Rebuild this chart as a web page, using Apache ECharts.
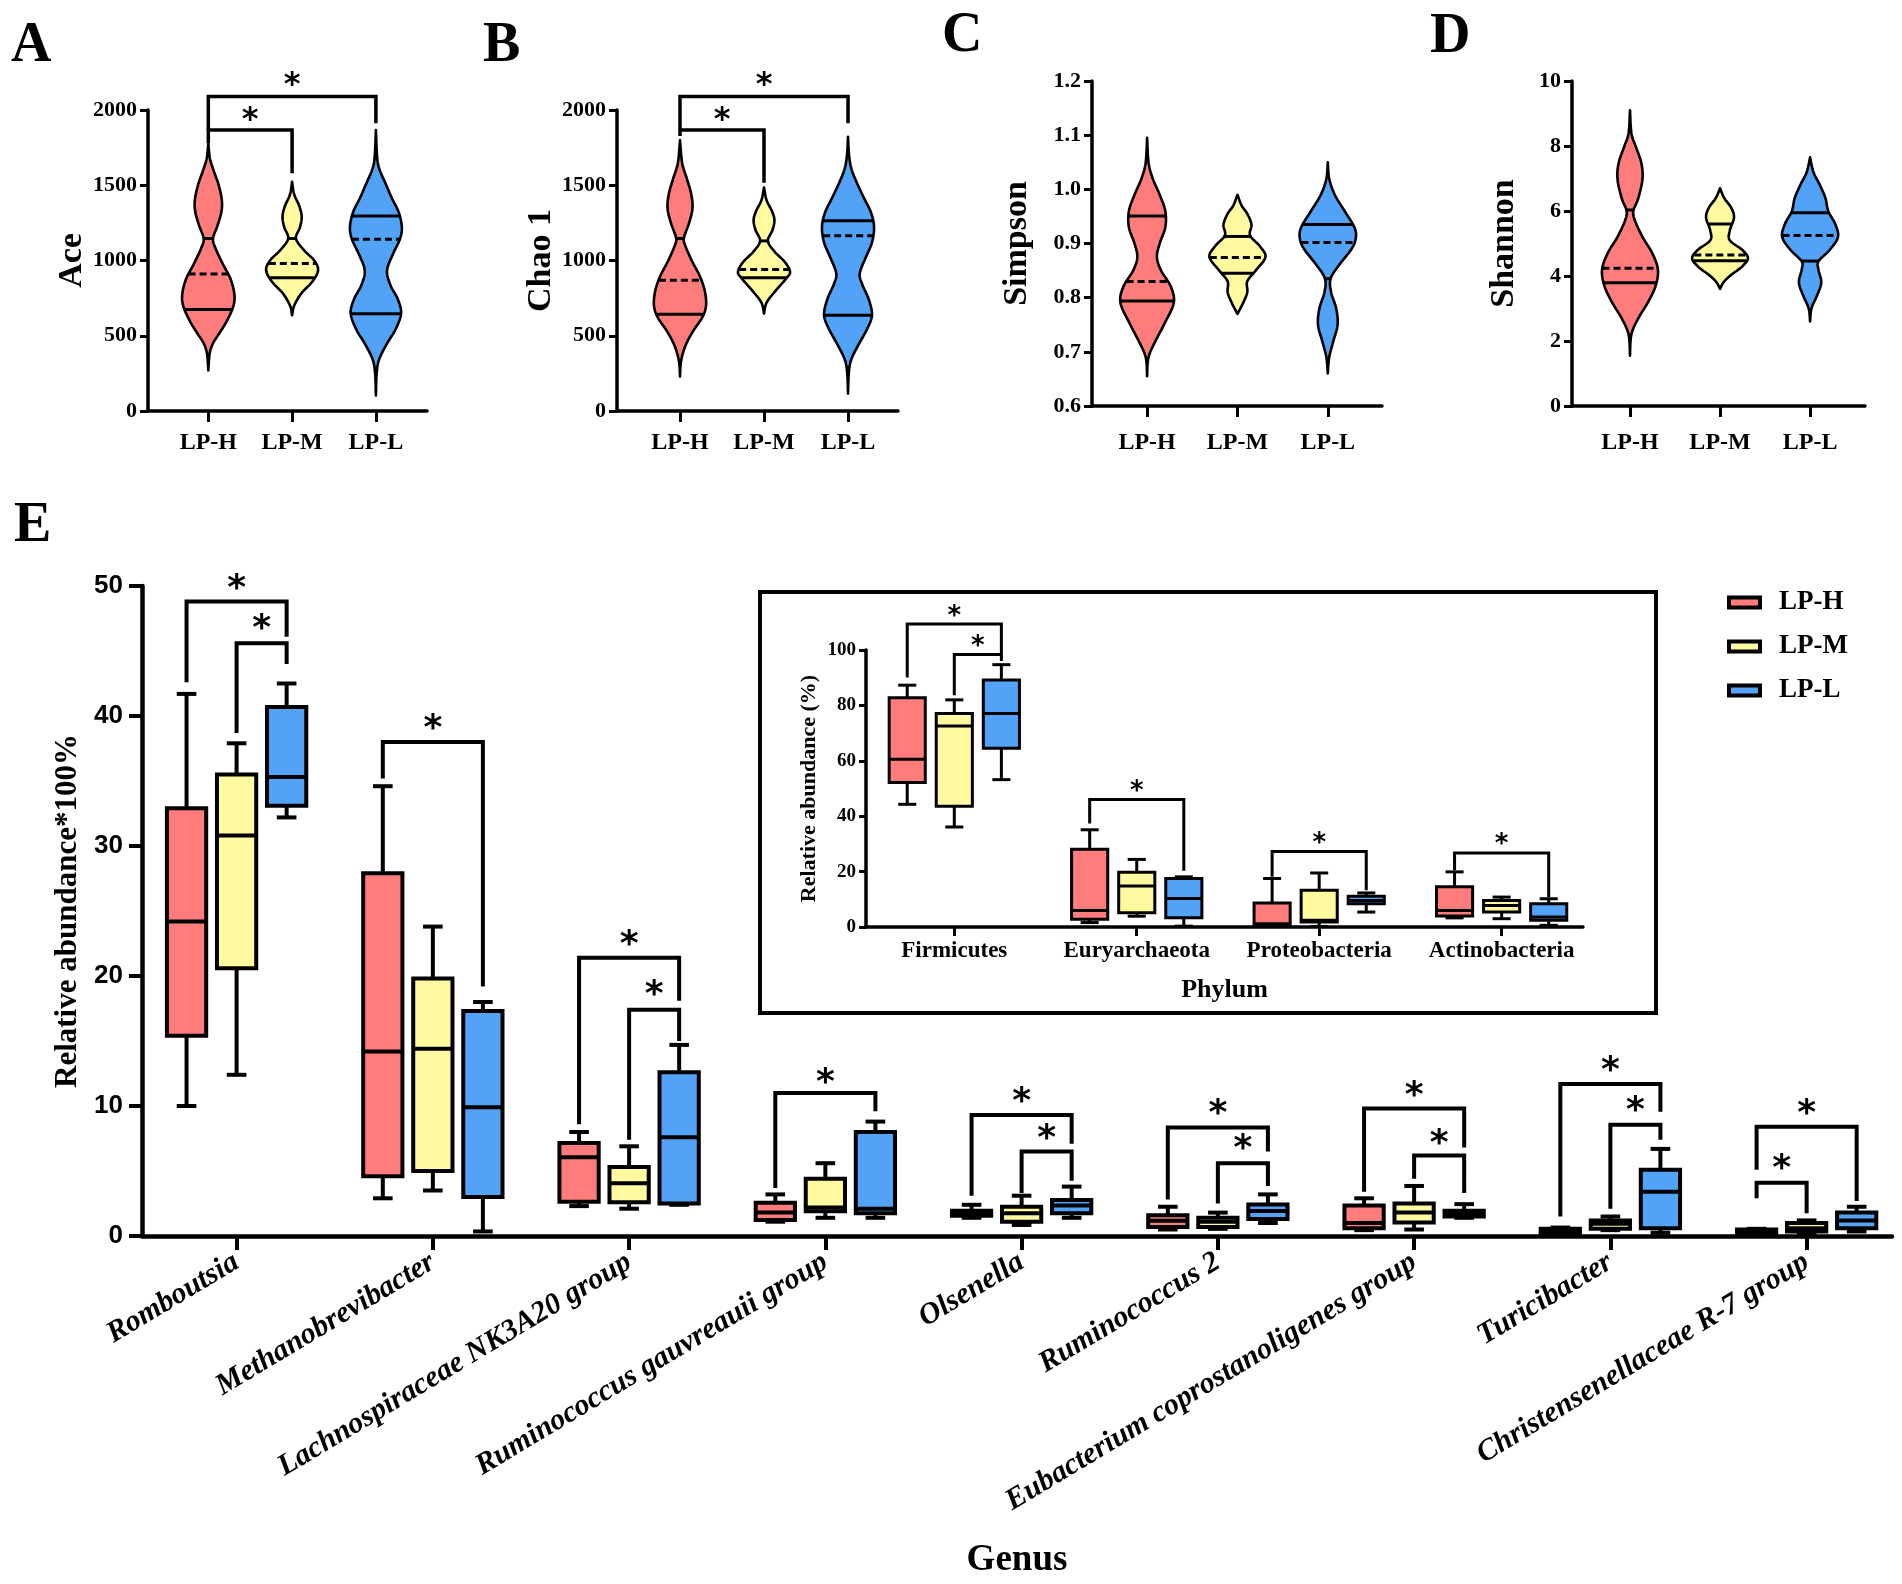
<!DOCTYPE html>
<html><head><meta charset="utf-8">
<script src="https://cdn.jsdelivr.net/npm/echarts@6/dist/echarts.min.js"></script>
<style>html,body{margin:0;padding:0;background:#fff}#c{width:1902px;height:1584px}</style>
</head><body><div id="c"></div>
<script>
const groups = ['LP-H', 'LP-M', 'LP-L'];
const colors = ['#FF7C7C', '#FFFA9F', '#52A2F8'];

// ---------- Violin panels: outline profiles [value, relative half-width] ----------
const ace_H = [[270,0],[380,0.05],[450,0.18],[515,0.42],[600,0.72],[700,0.97],[780,1.0],[880,0.85],[980,0.55],[1080,0.28],[1146,0.18],[1230,0.35],[1320,0.5],[1400,0.52],[1500,0.4],[1600,0.2],[1680,0.06],[1780,0]];
const ace_M = [[636,0],[700,0.08],[780,0.35],[860,0.78],[935,1.0],[1000,0.85],[1070,0.45],[1146,0.15],[1220,0.3],[1290,0.37],[1360,0.28],[1440,0.08],[1523,0]];
const ace_L = [[104,0],[250,0.03],[340,0.12],[440,0.4],[540,0.75],[647,0.97],[740,0.85],[840,0.55],[935,0.43],[1040,0.65],[1140,0.92],[1220,1.0],[1320,0.88],[1420,0.6],[1520,0.35],[1600,0.15],[1680,0.05],[1867,0]];
const chao_H = [[230,0],[330,0.04],[430,0.2],[530,0.5],[620,0.85],[700,1.0],[800,0.95],[900,0.75],[1000,0.45],[1100,0.2],[1150,0.15],[1250,0.35],[1350,0.48],[1450,0.42],[1550,0.25],[1650,0.08],[1800,0]];
const chao_M = [[647,0],[720,0.1],[800,0.45],[880,0.85],[925,1.0],[990,0.8],[1060,0.4],[1130,0.15],[1200,0.32],[1268,0.4],[1330,0.3],[1400,0.1],[1485,0]];
const chao_L = [[115,0],[250,0.03],[340,0.12],[440,0.4],[540,0.72],[636,0.92],[740,0.8],[840,0.55],[913,0.45],[1020,0.68],[1120,0.92],[1224,1.0],[1320,0.88],[1420,0.6],[1520,0.33],[1610,0.13],[1700,0.04],[1822,0]];
const simp_H = [[0.655,0],[0.69,0.05],[0.72,0.3],[0.75,0.6],[0.79,0.95],[0.82,0.85],[0.85,0.5],[0.875,0.35],[0.9,0.45],[0.93,0.65],[0.96,0.65],[0.99,0.45],[1.02,0.2],[1.05,0.05],[1.095,0]];
const simp_M = [[0.77,0],[0.79,0.2],[0.81,0.35],[0.83,0.35],[0.85,0.65],[0.875,1.0],[0.895,0.8],[0.915,0.45],[0.935,0.5],[0.955,0.35],[0.97,0.15],[0.99,0]];
const simp_L = [[0.66,0],[0.69,0.05],[0.72,0.2],[0.75,0.35],[0.78,0.3],[0.81,0.12],[0.835,0.1],[0.86,0.4],[0.89,0.85],[0.91,1.0],[0.93,0.95],[0.96,0.6],[0.99,0.25],[1.02,0.05],[1.05,0]];
const shan_H = [[1.55,0],[2.2,0.05],[2.7,0.3],[3.2,0.65],[3.7,0.92],[4.2,1.0],[4.7,0.8],[5.2,0.45],[5.7,0.18],[6.0,0.12],[6.4,0.3],[7.0,0.45],[7.5,0.4],[8.0,0.2],[8.4,0.05],[9.1,0]];
const shan_M = [[3.6,0],[3.8,0.12],[4.0,0.35],[4.3,0.8],[4.55,1.0],[4.8,0.8],[5.1,0.35],[5.4,0.35],[5.8,0.5],[6.1,0.4],[6.4,0.15],[6.7,0]];
const shan_L = [[2.6,0],[3.0,0.05],[3.4,0.25],[3.8,0.4],[4.2,0.3],[4.45,0.3],[4.8,0.7],[5.2,1.0],[5.6,0.9],[6.0,0.65],[6.4,0.55],[6.8,0.35],[7.2,0.12],[7.65,0]];

// quartile (solid) and median (dashed) lines per group
const ace_quart = [[675,1146],[885,1146],[647,1295]];
const ace_med = [910, 980, 1142];
const chao_quart = [[643,1146],[885,1130],[636,1264]];
const chao_med = [869, 940, 1164];
const simp_quart = [[0.794,0.951],[0.845,0.913],[0.835,0.935]];
const simp_med = [0.83, 0.874, 0.902];
const shan_quart = [[3.79,6.03],[4.47,5.6],[4.46,5.95]];
const shan_med = [4.24, 4.65, 5.25];

// significance brackets: [groupFrom, groupTo, yBar, yLegFrom, yLegTo, yStar]
const ace_sig = [[0,2,2089,1867,1912,2222],[0,1,1867,1781,1580,1989]];
const chao_sig = [[0,2,2089,1867,1912,2222],[0,1,1867,1827,1517,1989]];

// ---------- Panel E: genus box plots [min, q1, median, q3, max] ----------
const genera = ['Romboutsia','Methanobrevibacter','Lachnospiraceae NK3A20 group','Ruminococcus gauvreauii group','Olsenella','Ruminococcus 2','Eubacterium coprostanoligenes group','Turicibacter','Christensenellaceae R-7 group'];
const genus_H = [[10.0,15.4,24.2,32.9,41.7],[2.9,4.6,14.2,27.9,34.6],[2.3,2.64,6.06,7.15,8.0],[1.1,1.23,1.8,2.56,3.2],[1.4,1.55,1.75,1.95,2.4],[0.5,0.7,1.18,1.6,2.25],[0.45,0.6,1.0,2.35,2.9],[0.1,0.15,0.35,0.55,0.65],[0.15,0.2,0.35,0.5,0.55]];
const genus_M = [[12.4,20.6,30.8,35.5,37.9],[3.5,5.0,14.4,19.8,23.8],[2.1,2.6,4.05,5.3,6.9],[1.4,1.9,2.2,4.4,5.6],[0.85,1.1,1.75,2.25,3.1],[0.55,0.7,1.1,1.4,1.8],[0.5,1.03,1.8,2.5,3.85],[0.45,0.55,0.95,1.2,1.5],[0.15,0.35,0.6,1.0,1.2]];
const genus_L = [[32.2,33.1,35.3,40.7,42.5],[0.35,3.0,9.9,17.3,18.0],[2.4,2.5,7.6,12.6,14.7],[1.4,1.75,2.1,8.0,8.8],[1.4,1.75,2.35,2.77,3.8],[1.0,1.3,1.92,2.43,3.2],[1.4,1.5,1.75,1.95,2.45],[0.25,0.6,3.4,5.1,6.7],[0.35,0.6,1.2,1.8,2.25]];
// [category, groupFrom, groupTo, yBar, yLegFrom, yLegTo, yStar]
const genus_sig = [[0,0,2,48.8,42.6,46.1,50.5],[0,1,2,45.6,38.7,44.0,47.4],[1,0,2,38.0,35.2,19.2,39.7],[2,0,2,21.4,8.6,18.1,23.1],[2,1,2,17.4,7.4,15.0,19.2],[3,0,2,11.0,3.7,9.6,12.5],[4,0,2,9.3,3.1,7.1,11.0],[4,1,2,6.5,3.3,4.25,8.15],[5,0,2,8.35,2.8,6.5,10.1],[5,1,2,5.6,2.5,3.85,7.4],[6,0,2,9.8,3.4,6.8,11.5],[6,1,2,6.2,4.4,3.3,7.8],[7,0,2,11.7,1.5,9.55,13.4],[7,1,2,8.55,2.1,7.4,10.3],[8,0,2,8.4,5.1,2.7,10.1],[8,0,1,4.1,2.9,1.75,5.85]];
const genusTicks = [0,10,20,30,40,50];

// ---------- Inset: phylum box plots ----------
const phyla = ['Firmicutes','Euryarchaeota','Proteobacteria','Actinobacteria'];
const phylum_H = [[44.3,52.2,60.6,82.8,87.3],[1.6,2.8,6.0,28.1,35.1],[0.2,0.6,1.2,8.7,17.5],[3.3,4.0,6.0,14.5,19.9]];
const phylum_M = [[36.1,43.6,72.6,77.1,82.0],[3.9,5.1,14.8,19.8,24.4],[0.2,1.8,2.4,13.3,19.5],[3.0,5.4,7.8,9.6,10.8]];
const phylum_L = [[53.2,64.5,77.1,89.2,94.7],[0.3,3.3,10.3,17.5,18.1],[5.4,8.4,9.6,11.1,12.3],[0.6,2.4,3.6,8.4,10.2]];
const phylum_sig = [[0,0,2,109.4,90.1,98.8,114.5],[0,1,2,98.4,83.7,96.0,103.6],[1,0,2,46.0,37.4,20.3,51.2],[2,0,2,27.3,18.1,13.3,32.5],[3,0,2,26.7,20.5,10.8,31.9]];

// ---------- helpers ----------
const SERIF = 'Liberation Serif';
const SANS = 'Liberation Sans';

function catmull(pts, n) {
  const out = [];
  for (let k = 0; k < pts.length - 1; k++) {
    const p0 = pts[Math.max(0, k - 1)], p1 = pts[k], p2 = pts[k + 1], p3 = pts[Math.min(pts.length - 1, k + 2)];
    for (let s = 0; s < n; s++) {
      const t = s / n, t2 = t * t, t3 = t2 * t;
      const f = (a, b, c, d) => 0.5 * ((2 * b) + (-a + c) * t + (2 * a - 5 * b + 4 * c - d) * t2 + (-a + 3 * b - 3 * c + d) * t3);
      out.push([f(p0[0], p1[0], p2[0], p3[0]), Math.max(0, f(p0[1], p1[1], p2[1], p3[1]))]);
    }
  }
  out.push(pts[pts.length - 1]);
  return out;
}
function interp(prof, v) {
  for (let k = 0; k < prof.length - 1; k++) {
    const a = prof[k], b = prof[k + 1];
    if (v >= a[0] && v <= b[0]) return a[1] + (b[1] - a[1]) * (v - a[0]) / (b[0] - a[0]);
  }
  return 0;
}

function violinRender(profiles, quart, med, halfFrac) {
  return function (params, api) {
    const g = params.dataIndex;
    const cx = api.coord([g, 0])[0];
    const hw = api.size([halfFrac, 0])[0];
    const yPix = profiles[g].map(p => [api.coord([g, p[0]])[1], p[1]]);
    const dense = catmull(yPix, 10);
    const right = dense.map(p => [cx + p[1] * hw, p[0]]);
    const left = dense.map(p => [cx - p[1] * hw, p[0]]).reverse();
    const children = [{
      type: 'polygon', shape: { points: right.concat(left) },
      style: { fill: colors[g], stroke: '#000', lineWidth: 2.6, lineJoin: 'round' }
    }];
    const wAt = v => interp(profiles[g], v) * hw;
    quart[g].forEach(v => {
      const y = api.coord([g, v])[1], w = wAt(v);
      children.push({ type: 'line', shape: { x1: cx - w, y1: y, x2: cx + w, y2: y }, style: { stroke: '#000', lineWidth: 3 } });
    });
    const ym = api.coord([g, med[g]])[1], wm = wAt(med[g]);
    children.push({ type: 'line', shape: { x1: cx - wm, y1: ym, x2: cx + wm, y2: ym }, style: { stroke: '#000', lineWidth: 3, lineDash: [7, 4] } });
    return { type: 'group', children };
  };
}

function starText(x, y, fs) {
  return { type: 'text', x: x, y: y + fs * 0.27, style: { text: '*', fontSize: fs, fontWeight: 'bold', fontFamily: 'DejaVu Sans', fill: '#000', align: 'center', verticalAlign: 'middle' } };
}

function violinSigRender(list, lw, fs) {
  return function (params, api) {
    const b = list[params.dataIndex];
    const x1 = api.coord([b[0], 0])[0], x2 = api.coord([b[1], 0])[0];
    const Y = v => api.coord([0, v])[1];
    return { type: 'group', children: [
      { type: 'polyline', shape: { points: [[x1, Y(b[3])], [x1, Y(b[2])], [x2, Y(b[2])], [x2, Y(b[4])]] }, style: { stroke: '#000', lineWidth: lw, fill: null } },
      starText((x1 + x2) / 2, Y(b[5]), fs)
    ]};
  };
}

function boxRender(rows, g, off, wf, lw) {
  return function (params, api) {
    const i = params.dataIndex, d = rows[i];
    const xc = i + (g - 1) * off;
    const x = api.coord([xc, 0])[0];
    const bw = api.size([wf, 0])[0];
    const Y = v => api.coord([xc, v])[1];
    const cap = bw * 0.5;
    const st = { stroke: '#000', lineWidth: lw };
    return { type: 'group', children: [
      { type: 'line', shape: { x1: x, y1: Y(d[4]), x2: x, y2: Y(d[3]) }, style: st },
      { type: 'line', shape: { x1: x, y1: Y(d[1]), x2: x, y2: Y(d[0]) }, style: st },
      { type: 'line', shape: { x1: x - cap / 2, y1: Y(d[4]), x2: x + cap / 2, y2: Y(d[4]) }, style: st },
      { type: 'line', shape: { x1: x - cap / 2, y1: Y(d[0]), x2: x + cap / 2, y2: Y(d[0]) }, style: st },
      { type: 'rect', shape: { x: x - bw / 2, y: Y(d[3]), width: bw, height: Y(d[1]) - Y(d[3]) }, style: { fill: colors[g], stroke: '#000', lineWidth: lw } },
      { type: 'line', shape: { x1: x - bw / 2, y1: Y(d[2]), x2: x + bw / 2, y2: Y(d[2]) }, style: st }
    ]};
  };
}

function boxSigRender(list, off, lw, fs) {
  return function (params, api) {
    const b = list[params.dataIndex];
    const x1 = api.coord([b[0] + (b[1] - 1) * off, 0])[0];
    const x2 = api.coord([b[0] + (b[2] - 1) * off, 0])[0];
    const Y = v => api.coord([0, v])[1];
    return { type: 'group', children: [
      { type: 'polyline', shape: { points: [[x1, Y(b[4])], [x1, Y(b[3])], [x2, Y(b[3])], [x2, Y(b[5])]] }, style: { stroke: '#000', lineWidth: lw, fill: null } },
      starText((x1 + x2) / 2, Y(b[6]), fs)
    ]};
  };
}

// ---------- axes ----------
function groupXAxis(gi, min, max, margin) {
  return {
    type: 'value', gridIndex: gi, min: min, max: max,
    axisLine: { show: true, onZero: false, lineStyle: { color: '#000', width: 3.5 } },
    axisTick: { show: true, customValues: [0, 1, 2], length: 11, lineStyle: { color: '#000', width: 3 } },
    axisLabel: { show: true, customValues: [0, 1, 2], formatter: v => groups[Math.round(v)] || '', fontFamily: SERIF, fontWeight: 'bold', fontSize: 24, color: '#000', margin: margin },
    splitLine: { show: false }
  };
}
function violinYAxis(gi, min, max, interval, name, nameGap, fmt) {
  return {
    type: 'value', gridIndex: gi, min: min, max: max, interval: interval,
    name: name, nameLocation: 'middle', nameGap: nameGap, nameRotate: 90,
    nameTextStyle: { fontFamily: SERIF, fontWeight: 'bold', fontSize: 34, color: '#000' },
    axisLine: { show: true, onZero: false, lineStyle: { color: '#000', width: 3.5 } },
    axisTick: { show: true, length: 8, lineStyle: { color: '#000', width: 3 } },
    axisLabel: { fontFamily: SERIF, fontWeight: 'bold', fontSize: 22, color: '#000', margin: 11, formatter: fmt },
    splitLine: { show: false }
  };
}
const plainNum = v => String(v);

const grids = [
  { left: 148, top: 110, width: 279, height: 301 },
  { left: 617, top: 110, width: 281, height: 301 },
  { left: 1092, top: 81, width: 290, height: 325 },
  { left: 1572, top: 81, width: 293, height: 325 },
  { left: 142, top: 586, width: 1750, height: 650 },
  { left: 866, top: 650, width: 717, height: 277 }
].map(g => Object.assign({ outerBoundsMode: 'none', containLabel: false }, g));

const xAxes = [
  groupXAxis(0, -0.72, 2.61, 20),
  groupXAxis(1, -0.75, 2.595, 20),
  groupXAxis(2, -0.61, 2.6, 25),
  groupXAxis(3, -0.644, 2.61, 25),
  {
    type: 'value', gridIndex: 4, min: -0.482, max: 8.435,
    name: 'Genus', nameLocation: 'middle', nameGap: 306, nameMoveOverlap: false,
    nameTextStyle: { fontFamily: SERIF, fontWeight: 'bold', fontSize: 37, color: '#000' },
    axisLine: { show: true, onZero: false, lineStyle: { color: '#000', width: 4.5 } },
    axisTick: { show: true, customValues: genera.map((_, i) => i), length: 14, lineStyle: { color: '#000', width: 4 } },
    axisLabel: { show: true, customValues: genera.map((_, i) => i), formatter: v => genera[Math.round(v)] || '', rotate: 31, fontFamily: SERIF, fontWeight: 'bold', fontStyle: 'italic', fontSize: 30, color: '#000', margin: 24 },
    splitLine: { show: false }
  },
  {
    type: 'value', gridIndex: 5, min: -0.484, max: 3.446,
    name: 'Phylum', nameLocation: 'middle', nameGap: 50, nameMoveOverlap: false,
    nameTextStyle: { fontFamily: SERIF, fontWeight: 'bold', fontSize: 26, color: '#000' },
    axisLine: { show: true, onZero: false, lineStyle: { color: '#000', width: 3.5 } },
    axisTick: { show: true, customValues: [0, 1, 2, 3], length: 9, lineStyle: { color: '#000', width: 3 } },
    axisLabel: { show: true, customValues: [0, 1, 2, 3], formatter: v => phyla[Math.round(v)] || '', fontFamily: SERIF, fontWeight: 'bold', fontSize: 23, color: '#000', margin: 13 },
    splitLine: { show: false }
  }
];

const yAxes = [
  violinYAxis(0, 0, 2000, 500, 'Ace', 59, plainNum),
  violinYAxis(1, 0, 2000, 500, 'Chao 1', 57, plainNum),
  violinYAxis(2, 0.6, 1.2, 0.1, 'Simpson', 58, v => v.toFixed(1)),
  violinYAxis(3, 0, 10, 2, 'Shannon', 51, plainNum),
  {
    type: 'value', gridIndex: 4, min: genusTicks[0], max: genusTicks[genusTicks.length - 1], interval: 10,
    name: 'Relative abundance*100%', nameLocation: 'middle', nameGap: 55, nameRotate: 90,
    nameTextStyle: { fontFamily: SERIF, fontWeight: 'bold', fontSize: 31, color: '#000' },
    axisLine: { show: true, onZero: false, lineStyle: { color: '#000', width: 4.5 } },
    axisTick: { show: true, length: 13, lineStyle: { color: '#000', width: 4 } },
    axisLabel: { fontFamily: SANS, fontWeight: 'bold', fontSize: 26, color: '#000', margin: 19 },
    splitLine: { show: false }
  },
  {
    type: 'value', gridIndex: 5, min: 0, max: 100, interval: 20,
    name: 'Relative abundance (%)', nameLocation: 'middle', nameGap: 46, nameRotate: 90,
    nameTextStyle: { fontFamily: SERIF, fontWeight: 'bold', fontSize: 22, color: '#000' },
    axisLine: { show: true, onZero: false, lineStyle: { color: '#000', width: 3.5 } },
    axisTick: { show: true, length: 7, lineStyle: { color: '#000', width: 3 } },
    axisLabel: { fontFamily: SERIF, fontWeight: 'bold', fontSize: 19, color: '#000', margin: 10 },
    splitLine: { show: false }
  }
];

const series = [];
const violinSets = [
  [[ace_H, ace_M, ace_L], ace_quart, ace_med],
  [[chao_H, chao_M, chao_L], chao_quart, chao_med],
  [[simp_H, simp_M, simp_L], simp_quart, simp_med],
  [[shan_H, shan_M, shan_L], shan_quart, shan_med]
];
violinSets.forEach((vs, k) => {
  series.push({
    type: 'custom', name: 'violin' + k, xAxisIndex: k, yAxisIndex: k, clip: false,
    renderItem: violinRender(vs[0], vs[1], vs[2], 0.31),
    data: vs[0].map((p, g) => [g, p[0][0]]), encode: { x: 0, y: 1 }, silent: true
  });
});
[[ace_sig, 0], [chao_sig, 1]].forEach(([sig, k]) => {
  series.push({
    type: 'custom', name: 'sig' + k, xAxisIndex: k, yAxisIndex: k, clip: false,
    renderItem: violinSigRender(sig, 3.5, 32),
    data: sig.map(b => [b[0], b[2]]), encode: { x: 0, y: 1 }, silent: true
  });
});
[genus_H, genus_M, genus_L].forEach((rows, g) => {
  series.push({
    type: 'custom', name: groups[g], xAxisIndex: 4, yAxisIndex: 4, clip: false,
    itemStyle: { color: colors[g] },
    renderItem: boxRender(rows, g, 0.255, 0.2, 4),
    data: rows.map((d, i) => [i].concat(d)), encode: { x: 0, y: [1, 2, 3, 4, 5] }, silent: true
  });
});
series.push({
  type: 'custom', name: 'genusSig', xAxisIndex: 4, yAxisIndex: 4, clip: false,
  renderItem: boxSigRender(genus_sig, 0.255, 4, 36),
  data: genus_sig.map(b => [b[0], b[3]]), encode: { x: 0, y: 1 }, silent: true
});
[phylum_H, phylum_M, phylum_L].forEach((rows, g) => {
  series.push({
    type: 'custom', name: groups[g], xAxisIndex: 5, yAxisIndex: 5, clip: false,
    itemStyle: { color: colors[g] },
    renderItem: boxRender(rows, g, 0.258, 0.198, 3),
    data: rows.map((d, i) => [i].concat(d)), encode: { x: 0, y: [1, 2, 3, 4, 5] }, silent: true
  });
});
series.push({
  type: 'custom', name: 'phylumSig', xAxisIndex: 5, yAxisIndex: 5, clip: false,
  renderItem: boxSigRender(phylum_sig, 0.258, 3, 26),
  data: phylum_sig.map(b => [b[0], b[3]]), encode: { x: 0, y: 1 }, silent: true
});

const letter = (t, x, y) => ({ type: 'text', left: x, top: y, style: { text: t, fontFamily: SERIF, fontWeight: 'bold', fontSize: 56, fill: '#000' } });

const option = {
  backgroundColor: '#fff',
  animation: false,
  grid: grids,
  xAxis: xAxes,
  yAxis: yAxes,
  legend: {
    orient: 'vertical', left: 1722, top: 584, itemWidth: 31, itemHeight: 10, itemGap: 17,
    icon: 'rect', selectedMode: false,
    textStyle: { fontFamily: SERIF, fontWeight: 'bold', fontSize: 27, color: '#000', padding: [0, 0, 0, 14] },
    data: groups.map((g, i) => ({ name: g, itemStyle: { color: colors[i], borderColor: '#000', borderWidth: 4 } }))
  },
  graphic: [
    letter('A', 11, 19),
    letter('B', 483, 19),
    letter('C', 942, 9),
    letter('D', 1430, 10),
    letter('E', 14, 499),
    { type: 'rect', shape: { x: 760, y: 592, width: 896, height: 421 }, style: { fill: null, stroke: '#000', lineWidth: 4 }, z: -1 }
  ],
  series: series
};

const chart = echarts.init(document.getElementById('c'), null, { renderer: 'canvas', width: 1902, height: 1584 });
chart.setOption(option);
</script>
</body></html>
